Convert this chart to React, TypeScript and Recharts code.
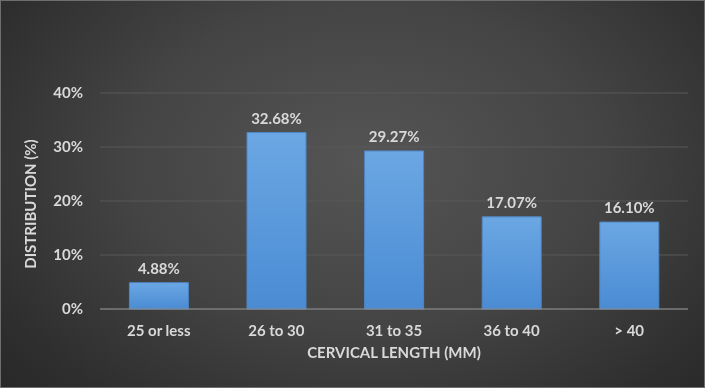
import { BarChart, Bar, XAxis, YAxis, CartesianGrid, LabelList } from 'recharts';

const categories = ['25 or less', '26 to 30', '31 to 35', '36 to 40', '> 40'];
const distribution = [4.88, 32.68, 29.27, 17.07, 16.1];
const yTicks = [0, 10, 20, 30, 40];

const data = categories.map((c, i) => ({ name: c, value: distribution[i] }));

const TEXT = '#d9d9d9';
const FONT = 'Lato, "Open Sans", sans-serif';
const FS = 15;

export default function App() {
  return (
    <div
      style={{
        position: 'fixed',
        top: 0,
        left: 0,
        width: 705,
        height: 388,
        boxSizing: 'border-box',
        border: '1px solid #6e6e6e',
        background: 'radial-gradient(ellipse 75% 95% at 52% 42%, #555555 0%, #444444 45%, #2e2e2e 80%, #252525 100%)',
        fontFamily: FONT,
      }}
    >
      <BarChart
        width={703}
        height={386}
        data={data}
        margin={{ top: 92, right: 16, bottom: 28, left: -1 }}
        barCategoryGap="25%"
      >
        <defs>
          <linearGradient id="barFill" x1="0" y1="0" x2="0" y2="1">
            <stop offset="0%" stopColor="#6ba7e3" />
            <stop offset="100%" stopColor="#4a8bd3" />
          </linearGradient>
        </defs>
        <CartesianGrid vertical={false} stroke="#585858" strokeWidth={1} />
        <XAxis
          dataKey="name"
          axisLine={{ stroke: '#8f8f8f' }}
          tickLine={false}
          tickSize={0}
          tickMargin={16}
          height={50}
          tick={{ fill: TEXT, fontSize: FS, fontWeight: 'bold', fontFamily: FONT }}
          label={{
            value: 'CERVICAL LENGTH (MM)',
            position: 'insideBottom',
            offset: 1,
            fill: TEXT,
            fontSize: FS,
            fontWeight: 'bold',
            fontFamily: FONT,
          }}
        />
        <YAxis
          width={100}
          domain={[0, 40]}
          ticks={yTicks}
          axisLine={false}
          tickLine={false}
          tickSize={0}
          tickMargin={17}
          tickFormatter={(v: number) => `${v}%`}
          tick={{ fill: TEXT, fontSize: FS, fontWeight: 'bold', fontFamily: FONT }}
          label={{
            content: (props: any) => {
              const vb = props.viewBox;
              const x = vb.x + 30;
              const y = vb.y + vb.height / 2 + 3;
              return (
                <text
                  x={x}
                  y={y}
                  transform={`rotate(-90 ${x} ${y})`}
                  textAnchor="middle"
                  dominantBaseline="central"
                  fill={TEXT}
                  fontSize={FS}
                  fontWeight="bold"
                  fontFamily={FONT}
                >
                  DISTRIBUTION (%)
                </text>
              );
            },
          }}
        />
        <Bar dataKey="value" fill="url(#barFill)" stroke="#4f86c4" strokeWidth={1} isAnimationActive={false}>
          <LabelList
            dataKey="value"
            position="top"
            offset={9}
            formatter={(v: any) => `${Number(v).toFixed(2)}%`}
            fill={TEXT}
            fontSize={FS}
            fontWeight="bold"
            fontFamily={FONT}
          />
        </Bar>
      </BarChart>
    </div>
  );
}
